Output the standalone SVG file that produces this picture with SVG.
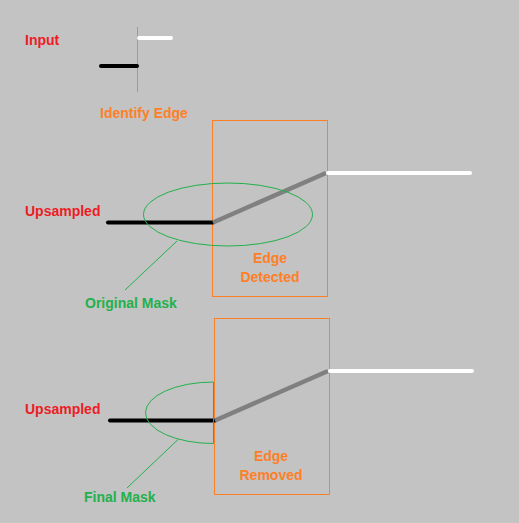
<svg xmlns="http://www.w3.org/2000/svg" width="519" height="523" viewBox="0 0 519 523">
<style>
text{font-family:"Liberation Sans",Arial,sans-serif;font-weight:bold;font-size:14px}
.r{fill:#ed1c24}.o{fill:#ff7f27}.g{fill:#22b14c}
.box{fill:none;stroke:#ff7f27;stroke-width:1}
.blk{stroke:#000;stroke-width:4;stroke-linecap:round}
.wht{stroke:#fff;stroke-width:4;stroke-linecap:round}
.gry{stroke:#808080;stroke-width:4.5}
.gl{fill:none;stroke:#22b14c;stroke-width:1}
</style>
<rect width="519" height="523" fill="#c3c3c3"/>
<g id="input">
<text class="r" x="25" y="45">Input</text>
<line x1="137.5" y1="27" x2="137.5" y2="92" stroke="#ff7f27" stroke-width="1"/>
<line class="wht" x1="139" y1="38" x2="171" y2="38"/>
<line class="blk" x1="101" y1="66" x2="137" y2="66"/>
<text class="o" x="100" y="118">Identify Edge</text>
</g>
<g id="detected">
<rect class="box" x="212.5" y="120.5" width="115" height="176"/>
<text class="o" x="270" y="263" text-anchor="middle">Edge</text>
<text class="o" x="270" y="282" text-anchor="middle">Detected</text>
</g>
<g id="upsampled1">
<text class="r" x="25" y="216">Upsampled</text>
<line class="blk" x1="108" y1="222.5" x2="213" y2="222.5"/>
<line class="gry" x1="213" y1="222.5" x2="326" y2="173"/>
<line class="wht" x1="328" y1="173" x2="470" y2="173"/>
</g>
<g id="original-mask">
<ellipse class="gl" cx="228" cy="214.5" rx="84.5" ry="31.5"/>
<text class="g" x="85" y="308">Original Mask</text>
</g>
<g id="removed">
<rect class="box" x="214.5" y="318.5" width="115" height="176"/>
<text class="o" x="271" y="461" text-anchor="middle">Edge</text>
<text class="o" x="271" y="480" text-anchor="middle">Removed</text>
</g>
<g id="upsampled2">
<text class="r" x="25" y="414">Upsampled</text>
<line class="blk" x1="110" y1="420.5" x2="215" y2="420.5"/>
<line class="gry" x1="215" y1="420.5" x2="328" y2="371"/>
<line class="wht" x1="330" y1="371" x2="472" y2="371"/>
</g>
<g id="final-mask">
<path class="gl" d="M213.5,382 L213.5,443.5 A68,30.75 0 0 1 213.5,382 Z"/>
<text class="g" x="84" y="502">Final Mask</text>
</g>
<g id="connectors">
<line class="gl" x1="177" y1="241" x2="125" y2="290"/>
<line class="gl" x1="178" y1="439.5" x2="127" y2="488"/>
</g>
</svg>
